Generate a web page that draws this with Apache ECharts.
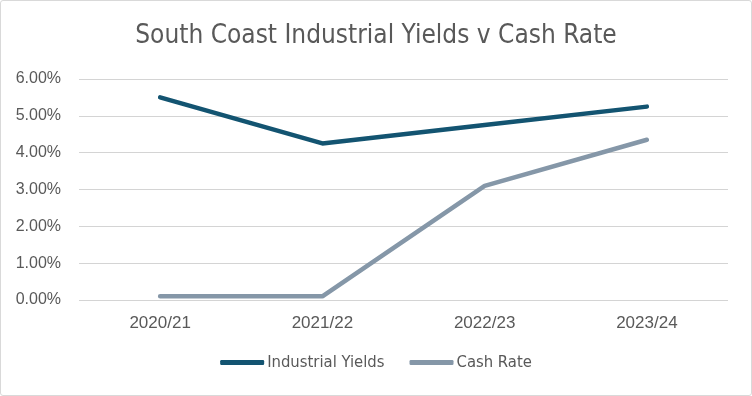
<!DOCTYPE html>
<html>
<head>
<meta charset="utf-8">
<script src="https://cdn.jsdelivr.net/npm/echarts@6/dist/echarts.min.js"></script>
<style>
  html, body { margin: 0; padding: 0; background: #fff; }
  #chart { width: 750px; height: 394px; border: 1px solid #d9d9d9; border-radius: 3px; }
</style>
</head>
<body>
<div id="chart"></div>
<script>
const categories = ['2020/21', '2021/22', '2022/23', '2023/24']
const industrialYields = [5.50, 4.25, 4.75, 5.25]
const cashRate = [0.10, 0.10, 3.10, 4.35]

const chart = echarts.init(document.getElementById('chart'))
const textColor = '#595959'
const narrow = '"DejaVu Sans Condensed", Roboto, sans-serif'

chart.setOption({
  animation: false,
  title: {
    text: 'South Coast Industrial Yields v Cash Rate',
    left: 'center',
    top: 17,
    textStyle: { fontFamily: narrow, fontSize: 26, fontWeight: 'normal', color: textColor },
  },
  grid: { left: 78, right: 23, top: 78, bottom: 95 },
  xAxis: {
    type: 'category',
    data: categories,
    axisLine: { show: false },
    axisTick: { show: false },
    axisLabel: { color: textColor, fontFamily: 'Liberation Sans', fontSize: 17, margin: 15 },
  },
  yAxis: {
    type: 'value',
    min: 0,
    max: 6,
    interval: 1,
    axisLabel: {
      color: textColor,
      fontFamily: 'Liberation Sans',
      fontSize: 16,
      margin: 18,
      formatter: v => v.toFixed(2) + '%',
    },
    splitLine: { lineStyle: { color: '#d4d4d4', width: 1.2 } },
  },
  legend: {
    bottom: 19,
    left: 'center',
    itemWidth: 44,
    itemHeight: 5,
    itemGap: 25,
    icon: 'roundRect',
    textStyle: { color: textColor, fontFamily: narrow, fontSize: 16.5, padding: [0, 0, 0, -2] },
    data: ['Industrial Yields', 'Cash Rate'],
  },
  series: [
    {
      name: 'Industrial Yields',
      type: 'line',
      data: industrialYields,
      symbol: 'none',
      lineStyle: { color: '#135471', width: 4.5, cap: 'round' },
      itemStyle: { color: '#135471' },
    },
    {
      name: 'Cash Rate',
      type: 'line',
      data: cashRate,
      symbol: 'none',
      lineStyle: { color: '#8597a8', width: 4.5, cap: 'round' },
      itemStyle: { color: '#8597a8' },
    },
  ],
})
</script>
</body>
</html>
